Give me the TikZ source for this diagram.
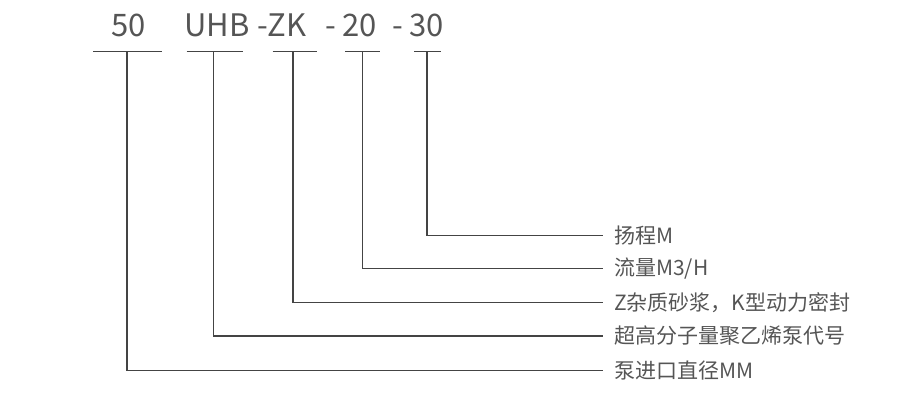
\documentclass[tikz,border=0pt]{standalone}
\usepackage{fontspec}
\setmainfont{Noto Sans CJK SC}
\definecolor{txt}{HTML}{555555}
\definecolor{ln}{HTML}{444444}
\begin{document}
\begin{tikzpicture}[x=1pt,y=-1pt,
  code/.style={inner sep=0pt,anchor=base west,text=txt,font=\fontsize{31}{34}\selectfont},
  lab/.style={inner xsep=11pt,inner ysep=0pt,anchor=west,text=txt,font=\fontsize{21}{24}\selectfont},
  wire/.style={draw=ln,line width=1.4pt}]
\useasboundingbox (0,0) rectangle (900,412);
% codes
\node[code] (c50)  at (111,36.7) {50};
\node[code] (cuhb) at (184,36.7) {UHB};
\node[code] (czk)  at (257,36.7) {-ZK};
\node[code] (d1)   at (325,36.7) {-};
\node[code] (c20)  at (342,36.7) {20};
\node[code] (d2)   at (392,36.7) {-};
\node[code] (c30)  at (409,36.7) {30};
% underline coordinates
\coordinate (u50)  at (127,51.7);
\coordinate (uuhb) at (213.5,51.7);
\coordinate (uzk)  at (293,51.7);
\coordinate (u20)  at (362.5,51.7);
\coordinate (u30)  at (427,51.7);
\draw[wire] (93,51.7) -- (162,51.7);
\draw[wire] (186.5,51.7) -- (243,51.7);
\draw[wire] (272.5,51.7) -- (317,51.7);
\draw[wire] (345,51.7) -- (380,51.7);
\draw[wire] (414,51.7) -- (440.5,51.7);
% labels
\node[lab] (l30)  at (603,235.7) {扬程M};
\node[lab] (l20)  at (603,268.3) {流量M3/H};
\node[lab] (lzk)  at (603,302.7) {Z杂质砂浆，K型动力密封};
\node[lab] (luhb) at (603,336) {超高分子量聚乙烯泵代号};
\node[lab] (l50)  at (603,370.7) {泵进口直径MM};
% connectors
\draw[wire] (u30) |- (l30.west);
\draw[wire] (u20) |- (l20.west);
\draw[wire] (uzk) |- (lzk.west);
\draw[wire] (uuhb) |- (luhb.west);
\draw[wire] (u50) |- (l50.west);
\end{tikzpicture}
\end{document}
